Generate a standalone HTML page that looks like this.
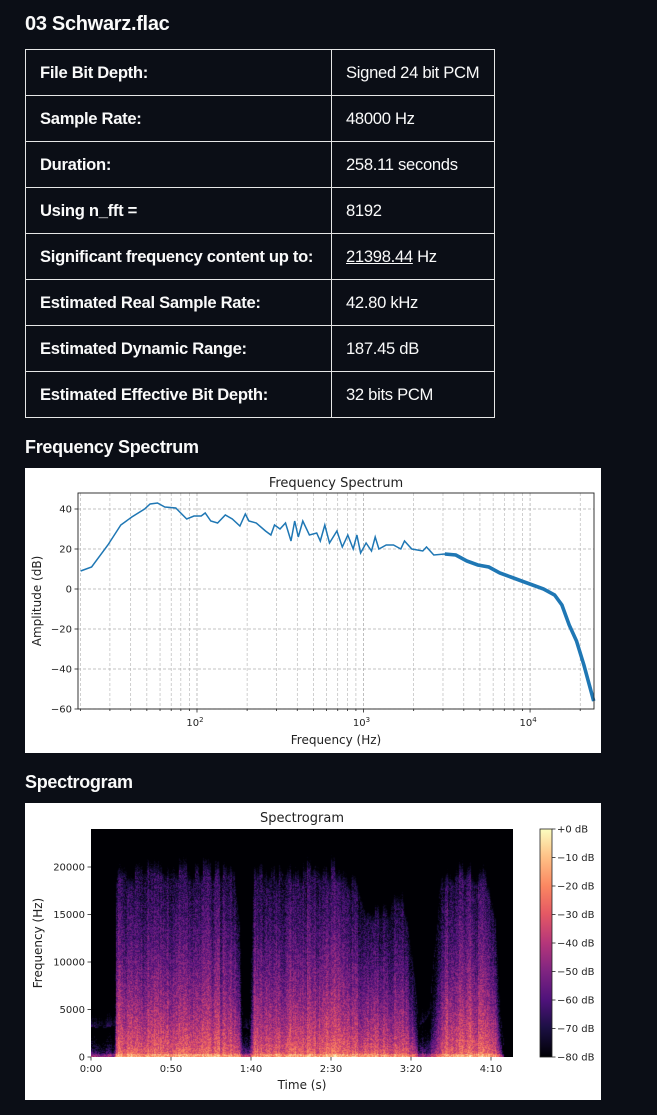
<!DOCTYPE html>
<html><head><meta charset="utf-8">
<style>
html,body{margin:0;padding:0;background:#0b0e16;width:657px;height:1115px;overflow:hidden;position:relative;font-family:"Liberation Sans",sans-serif;color:#fafafa}
.h{position:absolute;left:25px;font-weight:bold;margin:0;color:#fafafa;letter-spacing:-0.3px}
table{position:absolute;left:25px;top:49px;border-collapse:collapse;width:470px}
td{border:1px solid #e6e6e6;height:45px;padding:0 0 0 14px;font-size:16.6px;color:#fafafa;letter-spacing:-0.3px}
td.k{font-weight:bold;width:291px}
.box{position:absolute;left:25px;width:576px;background:#fff}
svg text{font-family:"DejaVu Sans",sans-serif;fill:#222}
#spec{position:absolute;left:91px;top:829px;width:422px;height:228px}
</style></head><body>
<h1 class="h" style="top:13px;font-size:20px">03 Schwarz.flac</h1>
<table>
<tr><td class="k">File Bit Depth:</td><td>Signed 24 bit PCM</td></tr>
<tr><td class="k">Sample Rate:</td><td>48000 Hz</td></tr>
<tr><td class="k">Duration:</td><td>258.11 seconds</td></tr>
<tr><td class="k">Using n_fft =</td><td>8192</td></tr>
<tr><td class="k">Significant frequency content up to:</td><td><u>21398.44</u> Hz</td></tr>
<tr><td class="k">Estimated Real Sample Rate:</td><td>42.80 kHz</td></tr>
<tr><td class="k">Estimated Dynamic Range:</td><td>187.45 dB</td></tr>
<tr><td class="k">Estimated Effective Bit Depth:</td><td>32 bits PCM</td></tr>
</table>
<h2 class="h" style="top:437px;font-size:18px">Frequency Spectrum</h2>
<div class="box" style="top:468px;height:285px"></div>
<h2 class="h" style="top:772px;font-size:18px">Spectrogram</h2>
<div class="box" style="top:803px;height:297px"></div>
<svg id="svg" width="657" height="1115" style="position:absolute;left:0;top:0" xmlns="http://www.w3.org/2000/svg">
<defs><linearGradient id="magma" x1="0" y1="1" x2="0" y2="0">
<stop offset="0" stop-color="#000004"/><stop offset="0.13" stop-color="#1c1044"/><stop offset="0.25" stop-color="#4f127b"/><stop offset="0.38" stop-color="#812581"/><stop offset="0.5" stop-color="#b5367a"/><stop offset="0.63" stop-color="#e55964"/><stop offset="0.75" stop-color="#fb8761"/><stop offset="0.88" stop-color="#fec287"/><stop offset="1" stop-color="#fcfdbf"/></linearGradient></defs>
</svg>
<canvas id="spec" width="422" height="228"></canvas>
<script>
// Frequency spectrum data
const specFreqs=[20,23.3,29.2,34.9,40.6,48.5,52.3,57.9,64.1,74.6,86.8,96,106,112,121,133,148,163,181,195,205,227,258,278,292,315,340,367,386,406,432,473,523,550,585,625,692,746,804,867,912,960,1036,1117,1175,1236,1368,1514,1675,1762,1950,2270,2388,2642,3076,3581,4169,4853,5649,6577,7656,8892,10350,12050,14030,15520,17180,19010,21040,24100];
const specDb=[9,11,22,32,36,40,42.5,43,41,40.5,35,36.5,36.5,38,34,33,37,35,31.5,37.5,34,33,29,27,32,30,33,24,34,26,34,27,28,24,32,23,29,21,27,20,27,18,23,19,26,20,22,22,20,24,20,19,21,17,17.5,17,14,12,11,8,6,4,2,0,-3,-8,-18,-26,-38,-56];
const yTicks=[40,20,0,-20,-40,-60];
const xDecades=[2,3,4];
// Spectrogram data
const segTimes=[0,15,16,60,90,93,95,99,102,130,150,165,172,185,195,202,205,212,218,222,245,252,256,258];
const segTopKHz=[3.2,3.2,19,19.5,19,14,3,3,19.5,19,19.5,18,14,15,17,8,3,5,17,19,19,16,4,1];
const segLevelDb=[-50,-50,-22,-22,-22,-28,-42,-42,-24,-22,-22,-23,-25,-25,-24,-32,-45,-45,-32,-22,-22,-22,-35,-55];
const sgYTicks=[0,5000,10000,15000,20000];
const sgXTicks=[0,50,100,150,200,250];
const sgXLabels=["0:00","0:50","1:40","2:30","3:20","4:10"];
const cbTicks=[0,-10,-20,-30,-40,-50,-60,-70,-80];

const NS="http://www.w3.org/2000/svg",svg=document.getElementById('svg');
function el(t,a,txt){const e=document.createElementNS(NS,t);for(const k in a)e.setAttribute(k,a[k]);if(txt!==undefined)e.textContent=txt;svg.appendChild(e);return e;}
const L=78,R=594,T=493,B=709,fmin=19.3,fmax=24200,dmin=-60,dmax=48;
const xs=f=>L+(Math.log10(f)-Math.log10(fmin))/(Math.log10(fmax)-Math.log10(fmin))*(R-L);
const ys=d=>B-(d-dmin)/(dmax-dmin)*(B-T);
for(let e=1;e<=4;e++)for(let m=1;m<10;m++){const f=m*Math.pow(10,e);if(f<fmin||f>fmax)continue;const x=xs(f);
 const g=el('line',{x1:x,x2:x,y1:T,y2:B,stroke:'#b0b0b0','stroke-width':m==1?0.8:0.6,'stroke-dasharray':'3,2'});
 el('line',{x1:x,x2:x,y1:B,y2:B+(m==1?3.5:2),stroke:'#222','stroke-width':0.8});}
yTicks.forEach(v=>{const y=ys(v);const g=el('line',{x1:L,x2:R,y1:y,y2:y,stroke:'#b0b0b0','stroke-width':0.8,'stroke-dasharray':'3,2'});
 el('line',{x1:L-3.5,x2:L,y1:y,y2:y,stroke:'#222','stroke-width':0.8});
 const t=el('text',{x:L-6,y:y+3.5,'font-size':'10','text-anchor':'end'},v<0?'\u2212'+(-v):String(v));});
xDecades.forEach(e=>{const x=xs(Math.pow(10,e));const t=el('text',{x:x-2,y:B+17,'font-size':'10','text-anchor':'middle'});
 t.innerHTML='10<tspan font-size="7" dy="-4">'+e+'</tspan>';});
let d='';specFreqs.forEach((f,i)=>{d+=(i?'L':'M')+xs(f).toFixed(1)+','+ys(specDb[i]).toFixed(1);});
let p=el('path',{d:d,fill:'none',stroke:'#1f77b4','stroke-width':1.5});
let d2='',st=false;specFreqs.forEach((f,i)=>{if(f<3000)return;d2+=(st?'L':'M')+xs(f).toFixed(1)+','+ys(specDb[i]).toFixed(1);st=true;});
p=el('path',{d:d2,fill:'none',stroke:'#1f77b4','stroke-width':3.6});
p=el('rect',{x:L,y:T,width:R-L,height:B-T,fill:'none',stroke:'#222','stroke-width':0.9});
p=el('text',{x:(L+R)/2,y:487,'font-size':'13','text-anchor':'middle'},'Frequency Spectrum');
p=el('text',{x:(L+R)/2,y:744,'font-size':'12','text-anchor':'middle'},'Frequency (Hz)');
p=el('text',{x:0,y:0,'font-size':'12','text-anchor':'middle',transform:'translate(41,601) rotate(-90)'},'Amplitude (dB)');

const SL=91,SR=513,ST=829,SB=1057,tmax=263.75,fTop=24000;
const sx=t=>SL+t/tmax*(SR-SL), sy=f=>SB-f/fTop*(SB-ST);
sgYTicks.forEach(v=>{const y=sy(v);el('line',{x1:SL-3.5,x2:SL,y1:y,y2:y,stroke:'#222','stroke-width':0.8});
 const t=el('text',{x:SL-6,y:y+3.5,'font-size':'10','text-anchor':'end'},String(v));});
sgXTicks.forEach((v,i)=>{const x=sx(v);el('line',{x1:x,x2:x,y1:SB,y2:SB+3.5,stroke:'#222','stroke-width':0.8});
 const t=el('text',{x:x,y:SB+15,'font-size':'10','text-anchor':'middle'},sgXLabels[i]);});
p=el('text',{x:(SL+SR)/2,y:822,'font-size':'13','text-anchor':'middle'},'Spectrogram');
p=el('text',{x:(SL+SR)/2,y:1089,'font-size':'12','text-anchor':'middle'},'Time (s)');
p=el('text',{x:0,y:0,'font-size':'12','text-anchor':'middle',transform:'translate(42,943) rotate(-90)'},'Frequency (Hz)');
const CL=540,CW=12;
p=el('rect',{x:CL,y:ST,width:CW,height:SB-ST,fill:'url(#magma)',stroke:'#222','stroke-width':0.8});
cbTicks.forEach(v=>{const y=ST+(-v)/80*(SB-ST);el('line',{x1:CL+CW,x2:CL+CW+3.5,y1:y,y2:y,stroke:'#222','stroke-width':0.8});
 const t=el('text',{x:CL+CW+5,y:y+3.5,'font-size':'10'},(v==0?'+0':'\u2212'+(-v))+' dB');});

const cv=document.getElementById('spec'),cx=cv.getContext('2d'),W=422,H=228,img=cx.createImageData(W,H);
const stops=[[0,0,0,4],[.13,28,16,68],[.25,79,18,123],[.38,129,37,129],[.5,181,54,122],[.63,229,89,100],[.75,251,135,97],[.88,254,194,135],[1,252,253,191]];
function cmap(v){v=Math.max(0,Math.min(1,v));for(let i=1;i<stops.length;i++){if(v<=stops[i][0]){const a=stops[i-1],b=stops[i],k=(v-a[0])/(b[0]-a[0]);return [a[1]+(b[1]-a[1])*k,a[2]+(b[2]-a[2])*k,a[3]+(b[3]-a[3])*k];}}return stops[8].slice(1);}
function hash(a,b){let h=(a*374761393+b*668265263)|0;h=(h^(h>>>13))*1274126177|0;return ((h^(h>>>16))>>>0)/4294967295;}
function interp(arr,t){if(t>=segTimes[segTimes.length-1])return null;for(let i=1;i<segTimes.length;i++)if(t<=segTimes[i]){const k=(t-segTimes[i-1])/(segTimes[i]-segTimes[i-1]);return arr[i-1]+(arr[i]-arr[i-1])*k;}return null;}
for(let x=0;x<W;x++){const t=(x+0.5)/W*tmax;let top=interp(segTopKHz,t),lv=interp(segLevelDb,t);
 const colN=(hash(Math.floor(x/3),7)-0.5)*9+(hash(x,11)-0.5)*6;
 if(top!==null)top*=0.93+hash(Math.floor(x/4),3)*0.1;
 for(let y=0;y<H;y++){const f=(H-y-0.5)/H*24;let v;
  if(top===null){v=-80;}
  else if(f>top){v=-70-(f-top)*12+colN+(hash(x,y)-0.5)*10;}
  else{v=lv-47*Math.pow(f/Math.max(top,1),0.55)+colN+(hash(x,y*3+1)-0.5)*18; if(f<0.3)v+=10;}
  const c=cmap((v+80)/80),o=(y*W+x)*4;img.data[o]=c[0];img.data[o+1]=c[1];img.data[o+2]=c[2];img.data[o+3]=255;}}
cx.putImageData(img,0,0);
</script>
</body></html>
